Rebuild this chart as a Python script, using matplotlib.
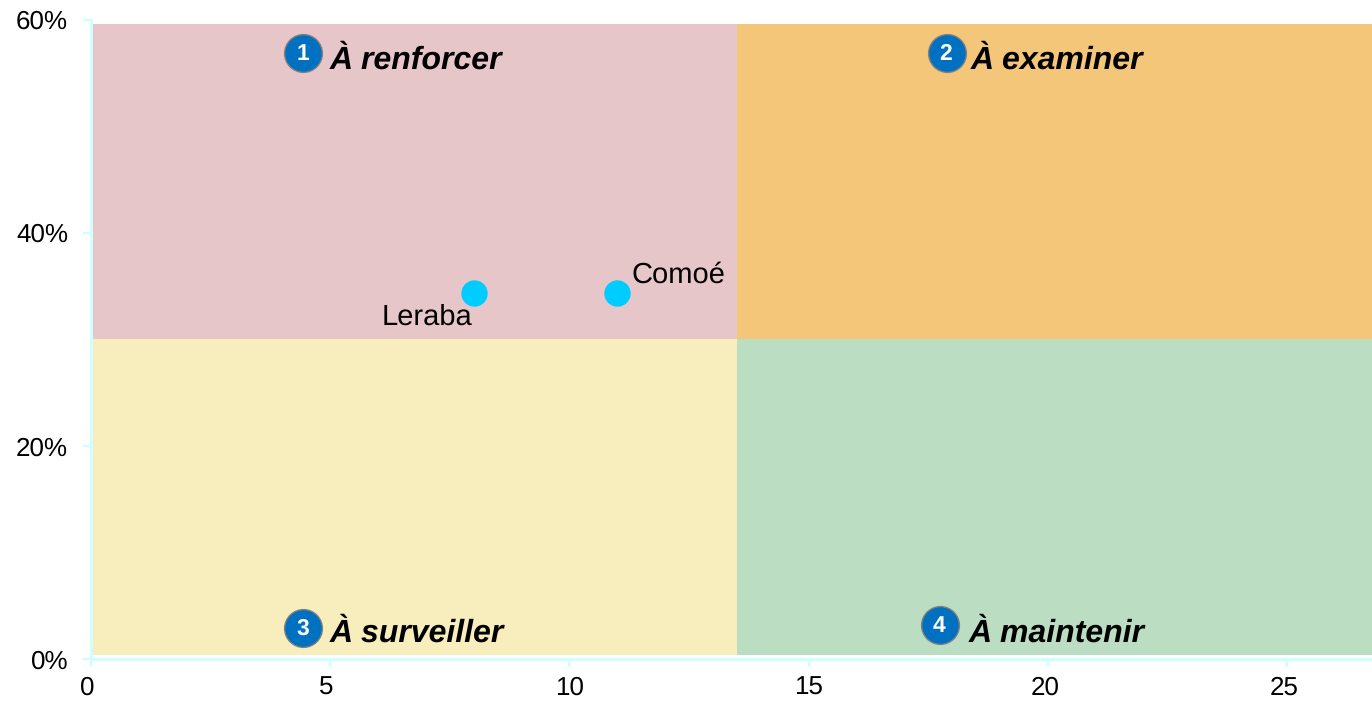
import matplotlib
matplotlib.use('Agg')
import matplotlib.pyplot as plt
from matplotlib.transforms import ScaledTranslation

plt.rcParams['font.family'] = ['Liberation Sans', 'DejaVu Sans']
plt.rcParams['text.hinting'] = 'no_hinting'

# data
names = ['Leraba', 'Comoé']
x_vals = [8.0, 11.0]
y_vals = [34.3, 34.3]
x_ticks = [0, 5, 10, 15, 20, 25]
y_ticks = [0, 20, 40, 60]

zone_names = ['À renforcer', 'À examiner', 'À surveiller', 'À maintenir']
zone_nums = ['1', '2', '3', '4']
zone_cols = ['#e7c6c9', '#f4c67a', '#f8edbc', '#bbddc2']
zone_x = [0.05, 13.5, 0.05, 13.5]
zone_y = [30, 30, 0.4, 0.4]
zone_w = [13.45, 13.4, 13.45, 13.4]
zone_h = [29.6, 29.6, 29.6, 29.6]
badge_x = [4.44, 17.89, 4.44, 17.75]
badge_y = [56.9, 56.9, 2.9, 3.2]
label_x = [4.98, 18.38, 4.98, 18.34]
label_y = [55.4, 55.4, 1.6, 1.6]

line_col = '#ccffff'

fig = plt.figure(figsize=(13.72, 7.03), dpi=100)
ax = fig.add_axes([91 / 1372, 44 / 703, 1281 / 1372, 639.5 / 703])
ax.set_xlim(0, 1281 / 47.84)
ax.set_ylim(0, 60)

ax.bar(zone_x, zone_h, width=zone_w, bottom=zone_y, align='edge', color=zone_cols,
       linewidth=0, zorder=1)

# numbered badges + zone titles
ax.scatter(badge_x, badge_y, s=740, c='#0070c0', edgecolors='#7f7f7f', linewidths=1,
           zorder=3)
for i, z in enumerate(zone_names):
    ax.text(badge_x[i] - 0.02, badge_y[i] + 0.12, zone_nums[i], color='white', fontsize=16.5,
            fontweight='bold', ha='center', va='center_baseline', zorder=4)
    ax.text(label_x[i], label_y[i], z, fontsize=23, fontweight='bold', style='italic',
            ha='left', va='baseline', zorder=4)

ax.plot(x_vals, y_vals, 'o', color='#00ccff', ms=19, mew=0, zorder=5, clip_on=False)
ax.text(7.98, 31.4, names[0], fontsize=21, ha='right', va='baseline', zorder=6)
ax.text(11.3, 35.3, names[1], fontsize=21, ha='left', va='baseline', zorder=6)

for s in ['top', 'right']:
    ax.spines[s].set_visible(False)
for s in ['left', 'bottom']:
    ax.spines[s].set_color(line_col)
    ax.spines[s].set_linewidth(2)

ax.set_xticks(x_ticks)
ax.set_yticks(y_ticks)
ax.set_yticklabels([str(t) + '%' for t in y_ticks])
ax.tick_params(axis='both', colors=line_col, length=5.5, width=1.6, labelsize=18.7,
               labelcolor='black')
ax.tick_params(axis='x', pad=7)
ax.tick_params(axis='y', pad=11)
# x labels are not quite centred on their ticks in the original (pixels)
shifts = [-4, -4, 0, 0, -3, -3]
for lab, sh in zip(ax.get_xticklabels(), shifts):
    lab.set_transform(lab.get_transform() + ScaledTranslation(sh / 100, 0, fig.dpi_scale_trans))

fig.savefig('out.png', dpi=100)
